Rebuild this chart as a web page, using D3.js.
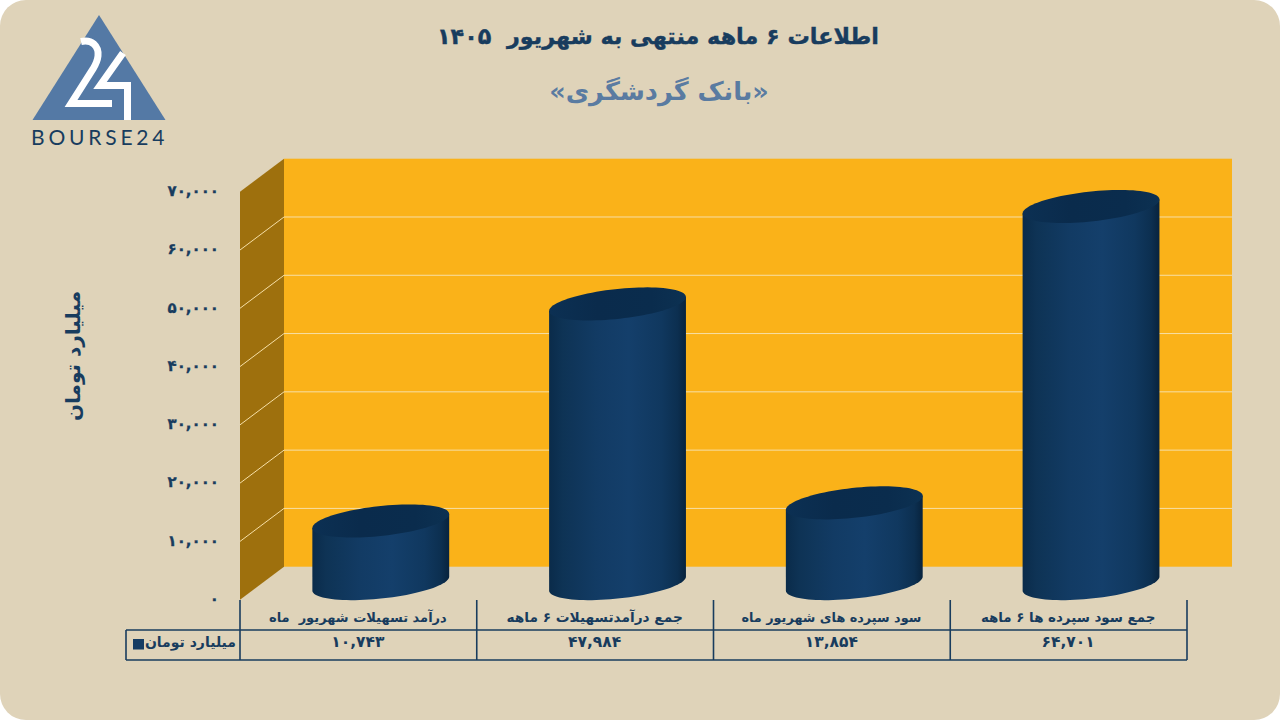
<!DOCTYPE html>
<html lang="fa"><head><meta charset="utf-8">
<script src="https://cdn.jsdelivr.net/npm/d3@7"></script>
<style>
html,body{margin:0;padding:0;background:#fff;overflow:hidden}
svg{display:block}
text{font-family:"DejaVu Sans",sans-serif;font-weight:bold;white-space:pre}
</style></head><body><svg id="c" width="1280" height="720"></svg>
<script>
const categories = ["درآمد تسهیلات شهریور  ماه","جمع درآمدتسهیلات ۶ ماهه","سود سپرده های شهریور ماه","جمع سود سپرده ها ۶ ماهه"];
const values = [10743,47984,13854,64701];
const yTicks = [0,10000,20000,30000,40000,50000,60000,70000];
const titleText = "اطلاعات ۶ ماهه منتهی به شهریور  ۱۴۰۵";
const subtitleText = "«بانک گردشگری»";
const seriesName = "میلیارد تومان";
const logoText = "BOURSE24";

const NAVY="#183c5e", BG="#dfd3b9", WALL="#fab219", SIDE="#9e700d", GRID="#f6dfa6", BLUE="#5479a5";
const fa = n => d3.format(",")(n).replace(/\d/g, d => "۰۱۲۳۴۵۶۷۸۹"[+d]);

const svg = d3.select("#c");
const defs = svg.append("defs");
const grad = (id, stops) => {
  const g = defs.append("linearGradient").attr("id", id);
  stops.forEach(([o,c]) => g.append("stop").attr("offset", o).attr("stop-color", c));
};
grad("body",[[0,"#0a2b4a"],[.1,"#0e3355"],[.35,"#123b64"],[.58,"#143f6b"],[.82,"#10385f"],[.94,"#0c2f50"],[1,"#08233d"]]);
grad("capfill",[[0,"#0c3053"],[.35,"#0a2b4c"],[.75,"#0a2c4d"],[1,"#0c3152"]]);

svg.append("rect").attr("width",1280).attr("height",720).attr("rx",26).attr("fill",BG);

// layout
const pL=240, pR=1187, pB=599.7, pT=191.7, dx=44, dy=33;
const y = d3.scaleLinear().domain([0,70000]).range([pB,pT]);
const x = d3.scaleBand().domain(categories).range([pL,pR]);

// walls
svg.append("rect").attr("x",pL+dx).attr("y",pT-dy).attr("width",pR-pL+1).attr("height",pB-pT).attr("fill",WALL);
svg.append("path").attr("d",d3.line()([[pL,pT],[pL+dx,pT-dy],[pL+dx,pB-dy],[pL,pB]])).attr("fill",SIDE);

// grid
const grid = svg.append("g").attr("stroke",GRID).attr("stroke-width",1).attr("fill","none");
yTicks.filter(t => t>0 && t<70000).forEach(t => {
  grid.append("path").attr("d",d3.line()([[pL,y(t)],[pL+dx,y(t)-dy],[pR+dx+1,y(t)-dy]]));
});

// y axis
const axis = svg.append("g").attr("transform",`translate(${pL-21},-1)`)
  .call(d3.axisLeft(y).tickValues(yTicks).tickSize(0).tickPadding(0).tickFormat(fa));
axis.select(".domain").remove();
axis.selectAll("text").attr("fill",NAVY).attr("stroke",NAVY).attr("stroke-width",0.3)
  .style("font-size","15px").style("letter-spacing","2.4px")
  .style("font-family",'"DejaVu Sans",sans-serif').style("font-weight","bold").attr("direction","ltr");

// cylinders
const rx = x.bandwidth()*0.289, ry=15, tilt=7;
const ang = d3.range(0,361,4).map(d=>d*Math.PI/180);
const pt = (cx,cy,t) => [cx+rx*Math.cos(t), cy+ry*Math.sin(t)-tilt*Math.cos(t)];
const line = d3.line();
const cyl = svg.append("g").selectAll("g").data(values).join("g");
cyl.each(function(v,i){
  const g=d3.select(this);
  const cx=x(categories[i])+x.bandwidth()/2+dx/2+.4, cyB=y(0)-dy/2+.4, cyT=y(v)-dy/2+.4;
  const lower=ang.filter(a=>a<=Math.PI+1e-6).map(a=>pt(cx,cyB,a));
  const pts=[...lower, pt(cx,cyT,Math.PI), pt(cx,cyT,0)];
  g.append("path").attr("d",line(pts)+"Z").attr("fill","url(#body)");
  g.append("path").attr("d",line(ang.map(a=>pt(cx,cyT,a)))+"Z").attr("fill","url(#capfill)");
});

// data table
const tableBottom=660, rowLine=630, tableLeft=126;
const table = svg.append("g").attr("stroke",NAVY).attr("stroke-width",1.6).attr("fill","none");
table.append("path").attr("d",d3.line()([[tableLeft,rowLine],[pR,rowLine]]));
table.append("path").attr("d",d3.line()([[tableLeft,tableBottom],[pR,tableBottom]]));
table.append("path").attr("d",d3.line()([[tableLeft,rowLine],[tableLeft,tableBottom]]));
[...categories.map(c=>x(c)),pR].forEach(px=>{
  table.append("path").attr("d",d3.line()([[px,600],[px,tableBottom]]));
});
const catSize=[13,13.7,12.8,13.4];
categories.forEach((c,i)=>{
  const cx=x(c)+x.bandwidth()/2-0.5;
  svg.append("text").attr("x",cx).attr("y",622).attr("text-anchor","middle").attr("direction","rtl")
    .attr("fill",NAVY).attr("font-size",catSize[i]).text(c);
  svg.append("text").attr("x",cx).attr("y",646.5).attr("text-anchor","middle").attr("direction","ltr")
    .attr("fill",NAVY).attr("font-size",15.5).attr("letter-spacing",1.2).text(fa(values[i]));
});
svg.append("rect").attr("x",133).attr("y",639).attr("width",11).attr("height",10.5).attr("fill","#153c63");
svg.append("text").attr("x",236).attr("y",647).attr("text-anchor","start").attr("direction","rtl")
  .attr("fill",NAVY).attr("font-size",14).text(seriesName);

// titles
svg.append("text").attr("x",658).attr("y",44).attr("text-anchor","middle").attr("direction","rtl")
  .attr("fill",NAVY).attr("stroke",NAVY).attr("stroke-width",0.4).attr("font-size",22.3).text(titleText);
svg.append("text").attr("x",659).attr("y",100).attr("text-anchor","middle").attr("direction","rtl")
  .attr("fill","#5a7ba1").attr("font-size",25.5).text(subtitleText);
svg.append("text").attr("transform","translate(80,356) rotate(-90)").attr("text-anchor","middle").attr("direction","rtl")
  .attr("fill",NAVY).attr("font-size",20).text(seriesName);

// logo
const logo=svg.append("g");
logo.append("path").attr("d","M99 15L165.5 120H32.5Z").attr("fill",BLUE);
logo.append("path").attr("fill","none").attr("stroke","#fff").attr("stroke-width",7)
  .attr("d","M81 41.5C92 39 99 46 98 56C97.5 61 96 64 93 69L71 103.5H112");
logo.append("path").attr("fill","none").attr("stroke","#fff").attr("stroke-width",7)
  .attr("d","M123 53L100 85.5H127.5V120");
logo.append("text").attr("x",31).attr("y",145).attr("fill",NAVY)
  .style("font-family",'"Lato",sans-serif').style("font-weight","400")
  .attr("font-size",21).attr("letter-spacing",3.8).text(logoText);
</script></body></html>
